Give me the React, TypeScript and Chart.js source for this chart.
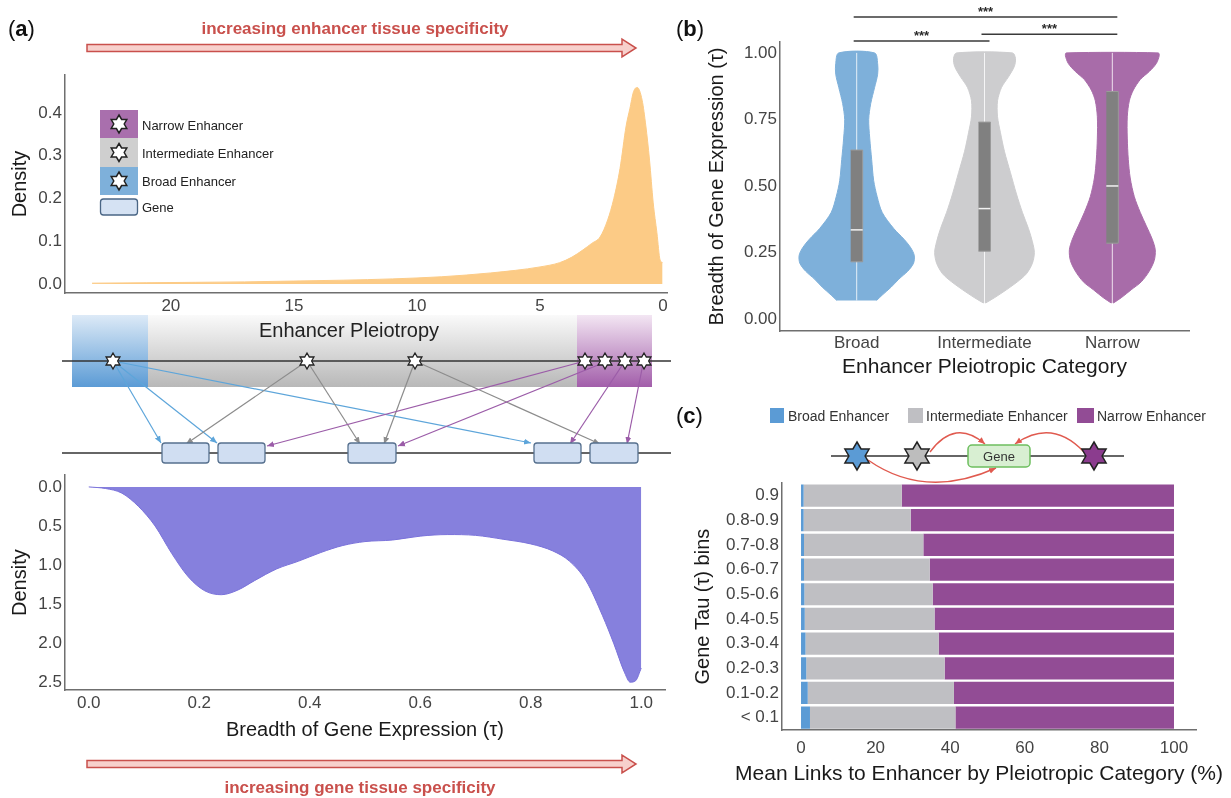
import React, { useEffect, useRef } from 'react';
import { Chart, registerables } from 'chart.js';

Chart.register(...registerables);

const FONT = '"Liberation Sans", Arial, Helvetica, sans-serif';
Chart.defaults.font.family = FONT;

// ---------- Panel (a), top: enhancer pleiotropy density ----------
const pleiotropyX = [0.02, 0.12, 0.25, 0.4, 0.55, 0.7, 0.85, 1.05, 1.2, 1.35, 1.5, 1.75, 2.0, 2.25, 2.56, 2.9, 3.25, 3.7, 4.2, 5, 6, 7, 8, 9, 11, 13, 15, 17, 19, 21, 23.2];
const pleiotropyDensity = [0.05, 0.056, 0.12, 0.19, 0.29, 0.37, 0.43, 0.46, 0.45, 0.41, 0.37, 0.27, 0.2, 0.15, 0.11, 0.095, 0.08, 0.063, 0.05, 0.04, 0.032, 0.026, 0.021, 0.017, 0.012, 0.009, 0.007, 0.005, 0.004, 0.003, 0.002];
const pleiotropyTicks = [20, 15, 10, 5, 0];
const pleiotropyDensityTicks = [0, 0.1, 0.2, 0.3, 0.4];

// ---------- Panel (a), bottom: gene tau density ----------
const tauX = [0, 0.03, 0.06, 0.09, 0.12, 0.15, 0.18, 0.21, 0.24, 0.27, 0.3, 0.34, 0.38, 0.42, 0.46, 0.5, 0.55, 0.6, 0.65, 0.7, 0.75, 0.8, 0.84, 0.87, 0.9, 0.93, 0.95, 0.97, 0.98, 0.99, 1.0];
const tauDensity = [0, 0.02, 0.08, 0.25, 0.5, 0.85, 1.15, 1.33, 1.38, 1.32, 1.2, 1.05, 0.95, 0.84, 0.75, 0.7, 0.68, 0.63, 0.61, 0.62, 0.67, 0.73, 0.82, 0.95, 1.2, 1.65, 2.0, 2.38, 2.5, 2.48, 2.32];
const tauTicks = [0, 0.2, 0.4, 0.6, 0.8, 1.0];
const tauDensityTicks = [0, 0.5, 1, 1.5, 2, 2.5];

// ---------- Panel (b): violins ----------
const violinCategories = ['Broad', 'Intermediate', 'Narrow'];
const violinColors = ['#7EB0DA', '#CDCDCF', '#A86CA9'];
const broadTau = [0.07, 0.09, 0.12, 0.15, 0.18, 0.21, 0.24, 0.27, 0.3, 0.34, 0.4, 0.46, 0.52, 0.6, 0.68, 0.75, 0.81, 0.87, 0.92, 0.96, 1.0];
const broadHalfWidth = [0.156, 0.2, 0.27, 0.33, 0.4, 0.445, 0.45, 0.42, 0.37, 0.29, 0.2, 0.16, 0.133, 0.117, 0.102, 0.094, 0.11, 0.14, 0.164, 0.164, 0.14];
const intermediateTau = [0.06, 0.08, 0.11, 0.14, 0.17, 0.21, 0.25, 0.29, 0.34, 0.4, 0.47, 0.55, 0.63, 0.7, 0.76, 0.82, 0.87, 0.91, 0.95, 0.98, 1.0];
const intermediateHalfWidth = [0.008, 0.078, 0.172, 0.258, 0.328, 0.375, 0.39, 0.375, 0.344, 0.297, 0.25, 0.203, 0.156, 0.125, 0.102, 0.102, 0.133, 0.1875, 0.234, 0.242, 0.219];
const narrowTau = [0.06, 0.08, 0.11, 0.14, 0.18, 0.22, 0.26, 0.3, 0.35, 0.4, 0.46, 0.53, 0.6, 0.68, 0.76, 0.82, 0.86, 0.9, 0.93, 0.96, 0.99, 1.0];
const narrowHalfWidth = [0.008, 0.07, 0.148, 0.227, 0.289, 0.328, 0.336, 0.3125, 0.266, 0.219, 0.172, 0.14, 0.125, 0.117, 0.117, 0.133, 0.164, 0.219, 0.289, 0.344, 0.367, 0.36];
const boxQ1 = [0.215, 0.255, 0.285];
const boxMedian = [0.335, 0.415, 0.5];
const boxQ3 = [0.635, 0.74, 0.855];
const whiskerLow = [0.07, 0.06, 0.06];
const whiskerHigh = [1.0, 1.0, 1.0];
const violinTicks = [0, 0.25, 0.5, 0.75, 1.0];
const bracketFrom = [1, 2, 1];
const bracketTo = [3, 3, 2];
const bracketLevel = [1.135, 1.07, 1.045];
const bracketLabel = ['***', '***', '***'];

// ---------- Panel (c): stacked bars ----------
const tauBins = ['0.9', '0.8-0.9', '0.7-0.8', '0.6-0.7', '0.5-0.6', '0.4-0.5', '0.3-0.4', '0.2-0.3', '0.1-0.2', '< 0.1'];
const broadPct = [0.7, 0.7, 0.8, 0.8, 0.9, 1.0, 1.2, 1.4, 1.8, 2.4];
const intermediatePct = [26.3, 28.7, 32.0, 33.7, 34.4, 34.8, 35.7, 37.1, 39.2, 39.0];
const narrowPct = [73.0, 70.6, 67.2, 65.5, 64.7, 64.2, 63.1, 61.5, 59.0, 58.6];
const pctTicks = [0, 20, 40, 60, 80, 100];
const barColors = ['#5B9BD5', '#BFBFC3', '#924C95'];

// ---------- helpers ----------
const TICK = '#444444';
const TITLE = '#1a1a1a';
const setTicks = (vals: number[]) => (s: any) => { s.ticks = vals.map((v) => ({ value: v })); };
const fixW = (w: number) => (s: any) => { s.width = w; };
const fixH = (h: number) => (s: any) => { s.height = h; };
const axis = (extra: any) => ({
  grid: { display: false, drawTicks: false },
  border: { display: true, color: '#6f6f6f', width: 1.5 },
  ...extra,
});
const baseOpts = (padding: any, scales: any, plugins: any = {}) => ({
  animation: false,
  responsive: false,
  events: [],
  layout: { padding },
  plugins: { legend: { display: false }, tooltip: { enabled: false }, ...plugins },
  scales,
});

function violinOutline(center: number, tau: number[], hw: number[]) {
  const right = tau.map((t, i) => ({ x: center + hw[i], y: t }));
  const left = tau.map((t, i) => ({ x: center - hw[i], y: t })).reverse();
  return [...right, ...left];
}

const topDensityConfig: any = {
  type: 'line',
  data: {
    datasets: [{
      data: pleiotropyX.map((x, i) => ({ x, y: pleiotropyDensity[i] })),
      fill: 'origin', backgroundColor: '#FCCB86', borderColor: '#FCCB86', borderWidth: 1,
      pointRadius: 0, cubicInterpolationMode: 'monotone',
    }],
  },
  options: baseOpts({ top: 15, right: 13, left: 0, bottom: 0 }, {
    x: axis({
      type: 'linear', reverse: true, min: -0.16, max: 24.3,
      ticks: { padding: 3, font: { size: 17 }, color: TICK, callback: (v: number) => String(v) },
      afterBuildTicks: setTicks(pleiotropyTicks), afterFit: fixH(27),
    }),
    y: axis({
      type: 'linear', min: -0.021, max: 0.489,
      ticks: { padding: 3, font: { size: 17 }, color: TICK, callback: (v: number) => v.toFixed(1) },
      title: { display: true, text: 'Density', font: { size: 20 }, color: TITLE, padding: { top: 8, bottom: 0 } },
      afterBuildTicks: setTicks(pleiotropyDensityTicks), afterFit: fixW(65),
    }),
  }),
};

const bottomDensityConfig: any = {
  type: 'line',
  data: {
    datasets: [{
      data: tauX.map((x, i) => ({ x, y: tauDensity[i] })),
      fill: 'origin', backgroundColor: '#8680DD', borderColor: '#7A72DA', borderWidth: 1,
      pointRadius: 0, cubicInterpolationMode: 'monotone',
    }],
  },
  options: baseOpts({ top: 10, right: 15, left: 0, bottom: 0 }, {
    x: axis({
      type: 'linear', min: -0.043, max: 1.043,
      ticks: { padding: 3, font: { size: 17 }, color: TICK, callback: (v: number) => v.toFixed(1) },
      title: { display: true, text: 'Breadth of Gene Expression (τ)', font: { size: 20 }, color: TITLE, padding: { top: 0, bottom: 10 } },
      afterBuildTicks: setTicks(tauTicks), afterFit: fixH(62),
    }),
    y: axis({
      type: 'linear', reverse: true, min: -0.15, max: 2.6,
      ticks: { padding: 3, font: { size: 17 }, color: TICK, callback: (v: number) => v.toFixed(1) },
      title: { display: true, text: 'Density', font: { size: 20 }, color: TITLE, padding: { top: 8, bottom: 0 } },
      afterBuildTicks: setTicks(tauDensityTicks), afterFit: fixW(65),
    }),
  }),
};

const violinProfiles = [
  [broadTau, broadHalfWidth],
  [intermediateTau, intermediateHalfWidth],
  [narrowTau, narrowHalfWidth],
];
const BOX_HALF = 0.047;
const violinDatasets: any[] = [];
violinProfiles.forEach(([tau, hw], i) => {
  const c = i + 1;
  violinDatasets.push({
    data: violinOutline(c, tau, hw), showLine: true, fill: 'shape', tension: 0.3,
    backgroundColor: violinColors[i], borderColor: violinColors[i], borderWidth: 1, pointRadius: 0, order: 4,
  });
  violinDatasets.push({
    data: [{ x: c, y: whiskerLow[i] }, { x: c, y: whiskerHigh[i] }], showLine: true, fill: false,
    borderColor: 'rgba(255,255,255,0.8)', borderWidth: 1, pointRadius: 0, order: 3,
  });
  violinDatasets.push({
    data: [{ x: c - BOX_HALF, y: boxQ1[i] }, { x: c + BOX_HALF, y: boxQ1[i] }, { x: c + BOX_HALF, y: boxQ3[i] }, { x: c - BOX_HALF, y: boxQ3[i] }],
    showLine: true, fill: 'shape', tension: 0, backgroundColor: '#808080', borderColor: '#9a9a9a', borderWidth: 1, pointRadius: 0, order: 2,
  });
  violinDatasets.push({
    data: [{ x: c - BOX_HALF, y: boxMedian[i] }, { x: c + BOX_HALF, y: boxMedian[i] }], showLine: true, fill: false,
    borderColor: '#F2F2F2', borderWidth: 1.5, pointRadius: 0, order: 1,
  });
});

const bracketPlugin = {
  id: 'brackets',
  afterDraw(chart: any) {
    const { ctx, scales } = chart;
    ctx.save();
    ctx.strokeStyle = '#3a3a3a';
    ctx.fillStyle = '#2a2a2a';
    ctx.lineWidth = 1.4;
    ctx.font = `bold 13px ${FONT}`;
    ctx.textAlign = 'center';
    ctx.textBaseline = 'alphabetic';
    bracketLevel.forEach((lv, i) => {
      const x0 = scales.x.getPixelForValue(bracketFrom[i]) - 3;
      const x1 = scales.x.getPixelForValue(bracketTo[i]) + 5;
      const y = scales.y.getPixelForValue(lv);
      ctx.beginPath();
      ctx.moveTo(x0, y);
      ctx.lineTo(x1, y);
      ctx.stroke();
      ctx.fillText(bracketLabel[i], (x0 + x1) / 2, y - 1);
    });
    ctx.restore();
  },
};

const violinConfig: any = {
  type: 'scatter',
  data: { datasets: violinDatasets },
  options: baseOpts({ top: 42, right: 31, left: 0, bottom: 0 }, {
    x: axis({
      type: 'linear', min: 0.4, max: 3.6,
      ticks: { padding: 2, font: { size: 17 }, color: TICK, callback: (v: number) => violinCategories[v - 1] },
      title: { display: true, text: 'Enhancer Pleiotropic Category', font: { size: 21 }, color: TITLE, padding: { top: 0, bottom: 10 } },
      afterBuildTicks: setTicks([1, 2, 3]), afterFit: fixH(59),
    }),
    y: axis({
      type: 'linear', min: -0.045, max: 1.041,
      ticks: { padding: 3, font: { size: 17 }, color: TICK, callback: (v: number) => v.toFixed(2) },
      title: { display: true, text: 'Breadth of Gene Expression (τ)', font: { size: 20 }, color: TITLE, padding: { top: 15, bottom: 0 } },
      afterBuildTicks: setTicks(violinTicks), afterFit: fixW(90),
    }),
  }),
  plugins: [bracketPlugin],
};

const barConfig: any = {
  type: 'bar',
  data: {
    labels: tauBins,
    datasets: [
      { label: 'Broad Enhancer', data: broadPct, backgroundColor: barColors[0] },
      { label: 'Intermediate Enhancer', data: intermediatePct, backgroundColor: barColors[1] },
      { label: 'Narrow Enhancer', data: narrowPct, backgroundColor: barColors[2] },
    ].map((d) => ({ ...d, barPercentage: 0.9, categoryPercentage: 1.0, borderWidth: 0 })),
  },
  options: {
    ...baseOpts({ top: 12, right: 29, left: 0, bottom: 0 }, {
      x: axis({
        type: 'linear', stacked: true, min: -5.1, max: 105.9,
        ticks: { padding: 8, font: { size: 17 }, color: TICK, callback: (v: number) => String(v) },
        afterBuildTicks: setTicks(pctTicks), afterFit: fixH(60),
      }),
      y: axis({
        type: 'category', stacked: true,
        ticks: { padding: 3, font: { size: 17 }, color: TICK },
        title: { display: true, text: 'Gene Tau (τ) bins', font: { size: 20 }, color: TITLE, padding: { top: 1, bottom: 0 } },
        afterFit: fixW(92),
      }),
    }),
    indexAxis: 'y',
  },
};

function ChartBox({ x, y, w, h, config }: any) {
  const ref = useRef<HTMLCanvasElement | null>(null);
  useEffect(() => {
    if (!ref.current) return;
    const c = new Chart(ref.current, config);
    return () => c.destroy();
  }, []);
  return <canvas ref={ref} width={w} height={h} style={{ position: 'absolute', left: x, top: y, width: w, height: h }} />;
}

function star(cx: number, cy: number, R: number, ratio = 0.58) {
  const pts: string[] = [];
  for (let k = 0; k < 12; k++) {
    const a = ((-90 + k * 30) * Math.PI) / 180;
    const rad = k % 2 === 0 ? R : R * ratio;
    pts.push(`${(cx + rad * Math.cos(a)).toFixed(2)},${(cy + rad * Math.sin(a)).toFixed(2)}`);
  }
  return pts.join(' ');
}

function blockArrow(x0: number, x1: number, cy: number) {
  const sh = 3.5, hh = 9, hl = 14;
  return `${x0},${cy - sh} ${x1 - hl},${cy - sh} ${x1 - hl},${cy - hh} ${x1},${cy} ${x1 - hl},${cy + hh} ${x1 - hl},${cy + sh} ${x0},${cy + sh}`;
}

const diagStarsX = [113, 307, 415, 585, 605, 625, 644];
const geneBoxes = [[162, 209], [218, 265], [348, 396], [534, 581], [590, 638]];
const linkArrows: [string, number, number, number, number][] = [
  ['blue', 113, 361, 161, 443], ['blue', 113, 361, 217, 443], ['blue', 113, 361, 531, 443],
  ['grey', 307, 361, 186, 444], ['grey', 307, 361, 360, 444], ['grey', 415, 361, 384, 444], ['grey', 415, 361, 600, 444],
  ['purple', 585, 361, 267, 446], ['purple', 603, 363, 398, 446], ['purple', 623, 364, 570, 444], ['purple', 643, 364, 627, 444],
];
const arrowColors: any = { blue: '#5DA5DA', grey: '#8C8C8C', purple: '#9B5CA8', red: '#E05A4F' };

function Overlay() {
  const t = { fontFamily: FONT } as any;
  return (
    <svg width={1231} height={798} style={{ position: 'absolute', left: 0, top: 0, pointerEvents: 'none' }}>
      <defs>
        <linearGradient id="gBlue" x1="0" y1="0" x2="0" y2="1">
          <stop offset="0" stopColor="#DDEAF7" />
          <stop offset="1" stopColor="#5B9BD5" />
        </linearGradient>
        <linearGradient id="gGrey" x1="0" y1="0" x2="0" y2="1">
          <stop offset="0" stopColor="#FAFAFA" />
          <stop offset="1" stopColor="#B8B8B8" />
        </linearGradient>
        <linearGradient id="gPurple" x1="0" y1="0" x2="0" y2="1">
          <stop offset="0" stopColor="#F3E6F3" />
          <stop offset="1" stopColor="#A25EAA" />
        </linearGradient>
        {Object.keys(arrowColors).map((k) => (
          <marker key={k} id={`ah-${k}`} markerWidth="8" markerHeight="8" refX="7" refY="4" orient="auto" markerUnits="userSpaceOnUse">
            <path d="M0,1 L7,4 L0,7 z" fill={arrowColors[k]} />
          </marker>
        ))}
      </defs>

      {/* panel labels */}
      <text x={8} y={36} fontSize={22} fill="#111" style={t}>(<tspan fontWeight="bold">a</tspan>)</text>
      <text x={676} y={36} fontSize={22} fill="#111" style={t}>(<tspan fontWeight="bold">b</tspan>)</text>
      <text x={676} y={423} fontSize={22} fill="#111" style={t}>(<tspan fontWeight="bold">c</tspan>)</text>

      {/* red arrows */}
      <text x={355} y={34} fontSize={17} fontWeight="bold" fill="#C9504C" textAnchor="middle" style={t}>increasing enhancer tissue specificity</text>
      <polygon points={blockArrow(87, 636, 48)} fill="#F7D0CC" stroke="#C9504C" strokeWidth={1.5} />
      <polygon points={blockArrow(87, 636, 764)} fill="#F7D0CC" stroke="#C9504C" strokeWidth={1.5} />
      <text x={360} y={793} fontSize={17} fontWeight="bold" fill="#C9504C" textAnchor="middle" style={t}>increasing gene tissue specificity</text>

      {/* legend in top density */}
      <rect x={100} y={110} width={38} height={28} fill="#A96FAD" />
      <rect x={100} y={138} width={38} height={29} fill="#CFCFCF" />
      <rect x={100} y={167} width={38} height={28} fill="#7EB0DA" />
      <rect x={100.5} y={199} width={37} height={16} rx={3} fill="#D5E2F3" stroke="#4A6685" strokeWidth={1.3} />
      {[124, 152.5, 181].map((cy) => (
        <polygon key={cy} points={star(119, cy, 9)} fill="#fff" stroke="#222" strokeWidth={1.5} />
      ))}
      <text x={142} y={130} fontSize={13} fill="#222" style={t}>Narrow Enhancer</text>
      <text x={142} y={158} fontSize={13} fill="#222" style={t}>Intermediate Enhancer</text>
      <text x={142} y={186} fontSize={13} fill="#222" style={t}>Broad Enhancer</text>
      <text x={142} y={212} fontSize={13} fill="#222" style={t}>Gene</text>

      {/* middle diagram */}
      <rect x={72} y={315} width={76} height={72} fill="url(#gBlue)" />
      <rect x={148} y={315} width={429} height={72} fill="url(#gGrey)" />
      <rect x={577} y={315} width={75} height={72} fill="url(#gPurple)" />
      <text x={349} y={337} fontSize={20} fill="#222" textAnchor="middle" style={t}>Enhancer Pleiotropy</text>
      <line x1={62} y1={361} x2={671} y2={361} stroke="#333" strokeWidth={1.5} />
      <line x1={62} y1={453} x2={671} y2={453} stroke="#333" strokeWidth={1.5} />
      {linkArrows.map(([c, x1, y1, x2, y2], i) => (
        <line key={i} x1={x1} y1={y1} x2={x2} y2={y2} stroke={arrowColors[c]} strokeWidth={1.2} markerEnd={`url(#ah-${c})`} />
      ))}
      {diagStarsX.map((cx) => (
        <polygon key={cx} points={star(cx, 361, 8)} fill="#fff" stroke="#222" strokeWidth={1.3} />
      ))}
      {geneBoxes.map(([a, b]) => (
        <rect key={a} x={a} y={443} width={b - a} height={20} rx={3} fill="#D0DEF2" stroke="#56708E" strokeWidth={1.3} />
      ))}

      {/* panel c legend */}
      <rect x={770} y={408} width={14} height={15} fill={barColors[0]} />
      <text x={788} y={421} fontSize={14} fill="#333" style={t}>Broad Enhancer</text>
      <rect x={908} y={408} width={15} height={15} fill={barColors[1]} />
      <text x={926} y={421} fontSize={14} fill="#333" style={t}>Intermediate Enhancer</text>
      <rect x={1077} y={408} width={17} height={15} fill={barColors[2]} />
      <text x={1097} y={421} fontSize={14} fill="#333" style={t}>Narrow Enhancer</text>

      {/* panel c diagram */}
      <line x1={831} y1={456} x2={1124} y2={456} stroke="#333" strokeWidth={1.5} />
      <path d="M 930 452 Q 955 418 985 444" fill="none" stroke={arrowColors.red} strokeWidth={1.4} markerEnd="url(#ah-red)" />
      <path d="M 868 460 Q 925 500 996 468" fill="none" stroke={arrowColors.red} strokeWidth={1.4} markerEnd="url(#ah-red)" />
      <path d="M 1084 452 Q 1052 418 1015 444" fill="none" stroke={arrowColors.red} strokeWidth={1.4} markerEnd="url(#ah-red)" />
      <polygon points={star(857, 456, 14)} fill="#5B9BD5" stroke="#222" strokeWidth={1.5} />
      <polygon points={star(917, 456, 14)} fill="#BDBDBD" stroke="#222" strokeWidth={1.5} />
      <polygon points={star(1094, 456, 14)} fill="#8B3C8E" stroke="#222" strokeWidth={1.5} />
      <rect x={968} y={445} width={62} height={22} rx={4} fill="#D8EFD2" stroke="#6DBF5F" strokeWidth={1.5} />
      <text x={999} y={461} fontSize={13} fill="#333" textAnchor="middle" style={t}>Gene</text>

      {/* panel c x-axis title (wider than the plot area) */}
      <text x={979} y={780} fontSize={21} fill={TITLE} textAnchor="middle" style={t}>Mean Links to Enhancer by Pleiotropic Category (%)</text>
    </svg>
  );
}

export default function App() {
  return (
    <div style={{ position: 'fixed', left: 0, top: 0, width: 1231, height: 798, background: '#fff', overflow: 'hidden', fontFamily: FONT }}>
      <ChartBox x={0} y={60} w={680} h={260} config={topDensityConfig} />
      <ChartBox x={0} y={462} w={680} h={290} config={bottomDensityConfig} />
      <ChartBox x={690} y={0} w={530} h={390} config={violinConfig} />
      <ChartBox x={690} y={470} w={535} h={320} config={barConfig} />
      <Overlay />
    </div>
  );
}
